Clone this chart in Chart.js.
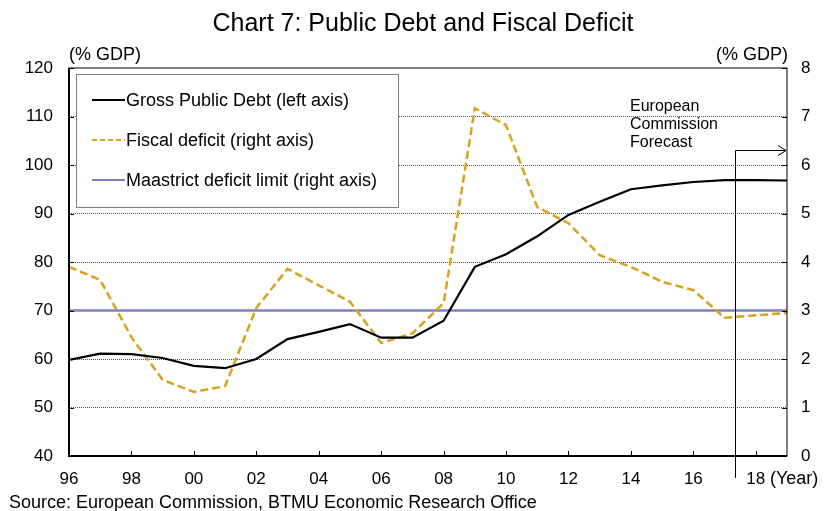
<!DOCTYPE html>
<html>
<head>
<meta charset="utf-8">
<script src="https://cdn.jsdelivr.net/npm/chart.js@4"></script>
<style>
  html, body { margin: 0; padding: 0; background: #fff; }
  #wrap { width: 825px; height: 511px; position: relative; }
</style>
</head>
<body>
<div id="wrap"><canvas id="chart7"></canvas></div>
<script>
// values
let years = [1996, 1997, 1998, 1999, 2000, 2001, 2002, 2003, 2004, 2005, 2006, 2007,
             2008, 2009, 2010, 2011, 2012, 2013, 2014, 2015, 2016, 2017, 2018, 2019];

let grossDebt = [59.8, 61.1, 61.0, 60.2, 58.6, 58.1, 60.0, 64.1, 65.6, 67.2, 64.4, 64.4,
                 67.9, 79.0, 81.6, 85.3, 89.7, 92.4, 95.0, 95.8, 96.5, 96.9, 96.9, 96.8];

let fiscalDeficit = [3.9, 3.63, 2.45, 1.57, 1.32, 1.44, 3.05, 3.86, 3.52, 3.18, 2.33, 2.53,
                     3.15, 7.17, 6.82, 5.13, 4.8, 4.14, 3.9, 3.59, 3.42, 2.85, 2.9, 2.95];

let maastrichtLimit = [3, 3, 3, 3, 3, 3, 3, 3, 3, 3, 3, 3,
                       3, 3, 3, 3, 3, 3, 3, 3, 3, 3, 3, 3];

let yearTicks = [1996, 1998, 2000, 2002, 2004, 2006, 2008, 2010, 2012, 2014, 2016, 2018];

let seriesNames = [
    'Gross Public Debt (left axis)',
    'Fiscal deficit (right axis)',
    'Maastrict deficit limit (right axis)'
];

let forecastStart = 2017.35;   // where the forecast bracket starts
let forecastLevel = 6.3;       // right axis level of the arrow

const FONT = '"Liberation Sans", Arial, sans-serif';

function pts(vals) {
    return years.map((y, i) => ({ x: y, y: vals[i] }));
}

const data7 = {
    datasets: [{
        label: seriesNames[0],
        data: pts(grossDebt),
        yAxisID: 'yL',
        borderColor: '#000000',
        borderWidth: 2.2,
        pointRadius: 0,
        tension: 0
    }, {
        label: seriesNames[1],
        data: pts(fiscalDeficit),
        yAxisID: 'yR',
        borderColor: '#d9a21b',
        borderWidth: 2.5,
        borderDash: [8, 4],
        pointRadius: 0,
        tension: 0
    }, {
        label: seriesNames[2],
        data: pts(maastrichtLimit),
        yAxisID: 'yR',
        borderColor: '#7f7fc0',
        borderWidth: 2.5,
        pointRadius: 0,
        tension: 0
    }]
};

// frame, inward tick marks, texts, legend box and forecast bracket
const extras = {
    id: 'extras',
    afterDatasetsDraw(chart) {
        const ctx = chart.ctx;
        const a = chart.chartArea;
        const x = chart.scales.x, yL = chart.scales.yL, yR = chart.scales.yR;
        ctx.save();

        // frame
        ctx.strokeStyle = '#000';
        ctx.lineWidth = 1;
        ctx.strokeRect(a.left, a.top, a.right - a.left, a.bottom - a.top);
        ctx.lineWidth = 2;
        ctx.beginPath();
        ctx.moveTo(a.left, a.top);
        ctx.lineTo(a.left, a.bottom);
        ctx.lineTo(a.right, a.bottom);
        ctx.stroke();

        // tick marks pointing in
        ctx.lineWidth = 1;
        ctx.beginPath();
        x.ticks.forEach(t => {
            if (t.value <= 1996 || t.value >= 2019) return;
            const px = Math.round(x.getPixelForValue(t.value)) + 0.5;
            ctx.moveTo(px, a.bottom);
            ctx.lineTo(px, a.bottom - 5);
        });
        yL.ticks.forEach(t => {
            const py = Math.round(yL.getPixelForValue(t.value)) + 0.5;
            ctx.moveTo(a.left, py);
            ctx.lineTo(a.left + 5, py);
        });
        yR.ticks.forEach(t => {
            const py = Math.round(yR.getPixelForValue(t.value)) + 0.5;
            ctx.moveTo(a.right, py);
            ctx.lineTo(a.right - 5, py);
        });
        ctx.stroke();

        // texts
        ctx.fillStyle = '#000';
        ctx.textBaseline = 'middle';
        ctx.font = '25px ' + FONT;
        ctx.textAlign = 'center';
        ctx.fillText('Chart 7: Public Debt and Fiscal Deficit', 423, 24);
        ctx.font = '18px ' + FONT;
        ctx.textAlign = 'left';
        ctx.fillText('(% GDP)', 69, 55);
        ctx.textAlign = 'right';
        ctx.fillText('(% GDP)', 788, 55);
        ctx.textAlign = 'left';
        ctx.fillText('(Year)', 770, 479);
        ctx.fillText('Source: European Commission, BTMU Economic Research Office', 9, 503);
        ctx.font = '16px ' + FONT;
        ctx.fillText('European', 630, 107);
        ctx.fillText('Commission', 630, 125);
        ctx.fillText('Forecast', 630, 143);

        // forecast bracket
        const fx = Math.round(x.getPixelForValue(forecastStart)) + 0.5;
        const fy = Math.round(yR.getPixelForValue(forecastLevel)) + 0.5;
        ctx.lineWidth = 1;
        ctx.beginPath();
        ctx.moveTo(fx, 478);
        ctx.lineTo(fx, fy);
        ctx.lineTo(a.right - 1, fy);
        ctx.moveTo(a.right - 9, fy - 5);
        ctx.lineTo(a.right - 1, fy);
        ctx.lineTo(a.right - 9, fy + 5);
        ctx.stroke();

        // legend box
        const bx = 76.5, by = 74.5, bw = 322, bh = 133;
        ctx.fillStyle = '#fff';
        ctx.fillRect(bx, by, bw, bh);
        ctx.strokeStyle = '#808080';
        ctx.lineWidth = 1;
        ctx.strokeRect(bx, by, bw, bh);
        const rows = [100, 140, 180];
        ctx.font = '18px ' + FONT;
        ctx.textAlign = 'left';
        chart.data.datasets.forEach((ds, i) => {
            ctx.strokeStyle = ds.borderColor;
            ctx.lineWidth = i === 2 ? 2 : 2.2;
            ctx.setLineDash(ds.borderDash ? [5, 3] : []);
            ctx.beginPath();
            ctx.moveTo(92, rows[i]);
            ctx.lineTo(125, rows[i]);
            ctx.stroke();
            ctx.setLineDash([]);
            ctx.fillStyle = '#000';
            ctx.fillText(ds.label, 126, rows[i] + 1);
        });

        ctx.restore();
    }
};

const config7 = {
    type: 'line',
    data: data7,
    plugins: [extras],
    options: {
        responsive: false,
        animation: false,
        layout: { padding: { top: 68, left: 0, right: 0, bottom: 0 } },
        plugins: {
            legend: { display: false },
            title: { display: false },
            tooltip: { enabled: false }
        },
        scales: {
            x: {
                type: 'linear',
                min: 1996,
                max: 2019,
                afterFit(s) { s.height = 55; },
                afterBuildTicks(s) { s.ticks = yearTicks.map(v => ({ value: v })); },
                grid: { display: false, drawTicks: false },
                border: { display: false },
                ticks: {
                    autoSkip: false,
                    maxRotation: 0,
                    padding: 13,
                    color: '#000',
                    font: { family: FONT, size: 17 },
                    callback: v => String(v % 100).padStart(2, '0')
                }
            },
            yL: {
                position: 'left',
                min: 40,
                max: 120,
                afterFit(s) { s.width = 69; },
                grid: {
                    drawTicks: false,
                    color: c => (c.tick.value === 40 || c.tick.value === 120) ? 'rgba(0,0,0,0)' : '#555',
                    lineWidth: 1
                },
                border: { display: false, dash: [1, 1] },
                ticks: {
                    stepSize: 10,
                    padding: 16,
                    color: '#000',
                    font: { family: FONT, size: 17 }
                }
            },
            yR: {
                position: 'right',
                min: 0,
                max: 8,
                afterFit(s) { s.width = 38; },
                grid: { display: false, drawTicks: false },
                border: { display: false },
                ticks: {
                    stepSize: 1,
                    padding: 14,
                    color: '#000',
                    font: { family: FONT, size: 17 }
                }
            }
        }
    }
};

const canvas7 = document.getElementById('chart7');
canvas7.width = 825;
canvas7.height = 511;
const chart7 = new Chart(canvas7, config7);
</script>
</body>
</html>
